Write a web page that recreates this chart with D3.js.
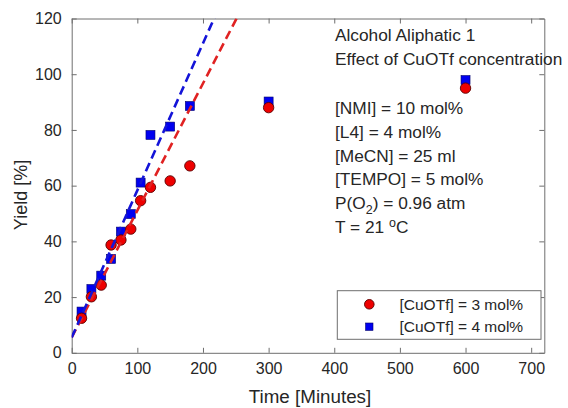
<!DOCTYPE html>
<html><head><meta charset="utf-8">
<script src="https://cdn.jsdelivr.net/npm/d3@7"></script>
<style>
html,body{margin:0;padding:0;background:#fff;}
svg{display:block;font-family:"Liberation Sans",Arial,sans-serif;}
</style></head>
<body><svg id="c" width="568" height="408"></svg>
<script>
// ---- data ----
const times3 = [15, 30, 45, 60, 75, 90, 105, 120, 150, 180, 300, 600];
const yield3 = [12.4, 20.1, 24.3, 38.7, 40.5, 44.4, 54.6, 59.4, 61.7, 67.1, 88.0, 95.0];
const times4 = [15, 30, 45, 60, 75, 90, 105, 120, 150, 180, 300, 600];
const yield4 = [14.8, 22.9, 27.7, 33.7, 43.5, 49.8, 61.1, 78.2, 81.2, 88.6, 90.2, 97.9];
const fitIntercept = [5.5, 5.5];     // [3 mol%, 4 mol%]
const fitSlope = [0.456, 0.528];
const xTicks = [0, 100, 200, 300, 400, 500, 600, 700];
const yTicks = [0, 20, 40, 60, 80, 100, 120];
const legendLabels = ["[CuOTf] = 3 mol%", "[CuOTf] = 4 mol%"];
const noteLines = ["Alcohol Aliphatic 1", "Effect of CuOTf concentration"];
const condLines = ["[NMI] = 10 mol%", "[L4] = 4 mol%", "[MeCN] = 25 ml", "[TEMPO] = 5 mol%"];

// ---- layout ----
const L = 71.7, R = 544.3, T = 18.5, B = 352.8;
const svg = d3.select("#c");
const x = d3.scaleLinear().domain([0, 720]).range([L, R]);
const y = d3.scaleLinear().domain([0, 120]).range([B, T]);
const axisCol = "#6e6e6e", textCol = "#262626";

svg.append("defs").append("clipPath").attr("id", "clip")
  .append("rect").attr("x", L).attr("y", T).attr("width", R - L).attr("height", B - T);

// axes with inward ticks
function styleAxis(g) {
  g.select(".domain").attr("stroke", axisCol);
  g.selectAll(".tick line").attr("stroke", axisCol);
  g.selectAll(".tick text").attr("fill", textCol).style("font-size", "16px")
    .style("font-family", "'Liberation Sans',Arial,sans-serif");
}
svg.append("g").attr("transform", `translate(0,${B})`)
  .call(d3.axisBottom(x).tickValues(xTicks).tickSizeInner(-5).tickSizeOuter(0).tickPadding(10))
  .call(styleAxis);
svg.append("g").attr("transform", `translate(0,${T})`)
  .call(d3.axisTop(x).tickValues(xTicks).tickSizeInner(-5).tickSizeOuter(0).tickFormat(""))
  .call(styleAxis);
svg.append("g").attr("transform", `translate(${L},0)`)
  .call(d3.axisLeft(y).tickValues(yTicks).tickSizeInner(-5).tickSizeOuter(0).tickPadding(10))
  .call(styleAxis);
svg.append("g").attr("transform", `translate(${R},0)`)
  .call(d3.axisRight(y).tickValues(yTicks).tickSizeInner(-5).tickSizeOuter(0).tickFormat(""))
  .call(styleAxis);

// axis labels
svg.append("text").attr("x", (L + R) / 2 + 2).attr("y", 403).attr("text-anchor", "middle")
  .attr("fill", textCol).style("font-size", "18.8px").text("Time [Minutes]");
svg.append("text").attr("transform", `translate(27,195) rotate(-90)`).attr("text-anchor", "middle")
  .attr("fill", textCol).style("font-size", "18px").text("Yield [%]");

// data markers
const pts3 = times3.map((t, i) => ({ t, v: yield3[i] }));
const pts4 = times4.map((t, i) => ({ t, v: yield4[i] }));
const plot = svg.append("g");
plot.selectAll("rect.s4").data(pts4).enter().append("rect").attr("class", "s4")
  .attr("x", d => x(d.t) - 4.5).attr("y", d => y(d.v) - 4.5).attr("width", 9).attr("height", 9)
  .attr("fill", "#0000f0").attr("stroke", "#00006a").attr("stroke-width", 0.6);
plot.selectAll("circle.s3").data(pts3).enter().append("circle").attr("class", "s3")
  .attr("cx", d => x(d.t)).attr("cy", d => y(d.v)).attr("r", 5.2)
  .attr("fill", "#ee0000").attr("stroke", "#5a0000").attr("stroke-width", 0.9);

// fit lines
const fitCols = ["#e02222", "#1414d8"];
const lines = svg.append("g").attr("clip-path", "url(#clip)");
fitIntercept.forEach((b, i) => {
  const xs = [0, 300];
  lines.append("path")
    .attr("d", d3.line().x(t => x(t)).y(t => y(b + fitSlope[i] * t))(xs))
    .attr("fill", "none").attr("stroke", fitCols[i]).attr("stroke-width", 2.6)
    .attr("stroke-dasharray", "9,5");
});

// annotations
const ann = svg.append("g").attr("fill", textCol).style("font-size", "17.3px");
noteLines.forEach((s, i) => ann.append("text").attr("x", 335).attr("y", 41 + i * 23.5).text(s));
condLines.forEach((s, i) => ann.append("text").attr("x", 335).attr("y", 114 + i * 23.8).text(s));
const p = ann.append("text").attr("x", 335).attr("y", 114 + 4 * 23.8);
p.append("tspan").text("P(O");
p.append("tspan").attr("dy", 5).style("font-size", "12.5px").text("2");
p.append("tspan").attr("dy", -5).text(") = 0.96 atm");
const tt = ann.append("text").attr("x", 335).attr("y", 114 + 5 * 23.8);
tt.append("tspan").text("T = 21 ");
tt.append("tspan").attr("dy", -6).style("font-size", "12.5px").text("o");
tt.append("tspan").attr("dy", 6).text("C");

// legend
const lg = svg.append("g");
lg.append("rect").attr("x", 337.3).attr("y", 290.7).attr("width", 203.7).attr("height", 48.6)
  .attr("fill", "#fff").attr("stroke", axisCol).attr("stroke-width", 1);
lg.append("circle").attr("cx", 369.3).attr("cy", 304.3).attr("r", 4.8)
  .attr("fill", "#ee0000").attr("stroke", "#5a0000").attr("stroke-width", 0.9);
lg.append("rect").attr("x", 369.3 - 3.7).attr("y", 326.7 - 3.7).attr("width", 7.4).attr("height", 7.4)
  .attr("fill", "#0000f0").attr("stroke", "#00006a").attr("stroke-width", 0.6);
legendLabels.forEach((s, i) => lg.append("text").attr("x", 399.5).attr("y", 309.8 + i * 22.4)
  .attr("fill", textCol).style("font-size", "15.5px").text(s));
</script></body></html>
